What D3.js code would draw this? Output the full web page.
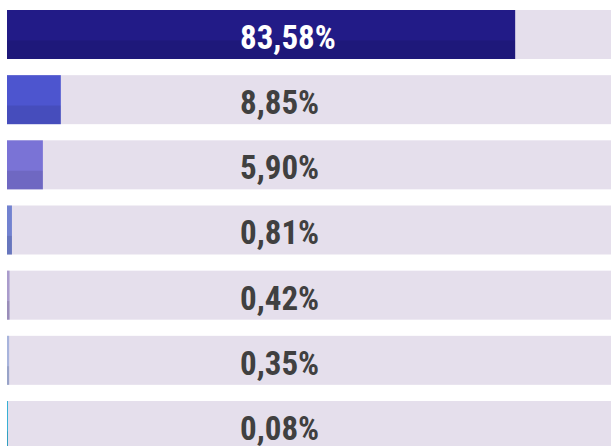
<!DOCTYPE html>
<head>
	<meta charset="utf-8">
	<title>Porcentajes</title>
	<style>
	body { margin: 0; background: #fff; }
	.label {
	  font-family: "Roboto Condensed", Roboto, sans-serif;
	  font-weight: 700;
	  font-size: 33px;
	}
	</style>
</head>
<body>
<script src="https://d3js.org/d3.v7.min.js"></script>
<script>

var labels = ["83,58%", "8,85%", "5,90%", "0,81%", "0,42%", "0,35%", "0,08%"];
var values = [83.58, 8.85, 5.90, 0.81, 0.42, 0.35, 0.08];
var colors = ["#221b87", "#4d55cf", "#7a73d6", "#7282d0", "#aa9ccc", "#a8b4dc", "#38b0d4"];

var width = 611, height = 446;

var svg = d3.select("body")
	.append("svg")
	.attr("width", width)
	.attr("height", height);

var x = d3.scaleLinear().domain([0, 100]).range([7, 615]);
var y = d3.scaleBand().domain(d3.range(values.length)).range([10, 450]).paddingInner(0.248);

var row = svg.selectAll(".row")
	.data(values)
	.enter().append("g")
	.attr("class", "row")
	.attr("transform", function(d, i) { return "translate(0," + y(i) + ")"; });

// track
row.append("rect")
	.attr("x", x(0))
	.attr("width", x(100) - x(0))
	.attr("height", y.bandwidth())
	.attr("fill", "#e5dfec");

// filled part
row.append("rect")
	.attr("x", x(0))
	.attr("width", function(d) { return Math.max(1, x(d) - x(0)); })
	.attr("height", y.bandwidth())
	.attr("fill", function(d, i) { return colors[i]; });

// darker lower part of the fill
row.append("rect")
	.attr("x", x(0))
	.attr("y", y.bandwidth() * 0.62)
	.attr("width", function(d) { return Math.max(1, x(d) - x(0)); })
	.attr("height", y.bandwidth() * 0.38)
	.attr("fill", "#000")
	.attr("fill-opacity", 0.09);

var text = row.append("text")
	.attr("class", "label")
	.attr("x", 240)
	.attr("y", y.bandwidth() / 2 + 14.5)
	.attr("fill", function(d, i) { return i == 0 ? "#fff" : "#404040"; })
	.text(function(d, i) { return labels[i]; });

</script>
